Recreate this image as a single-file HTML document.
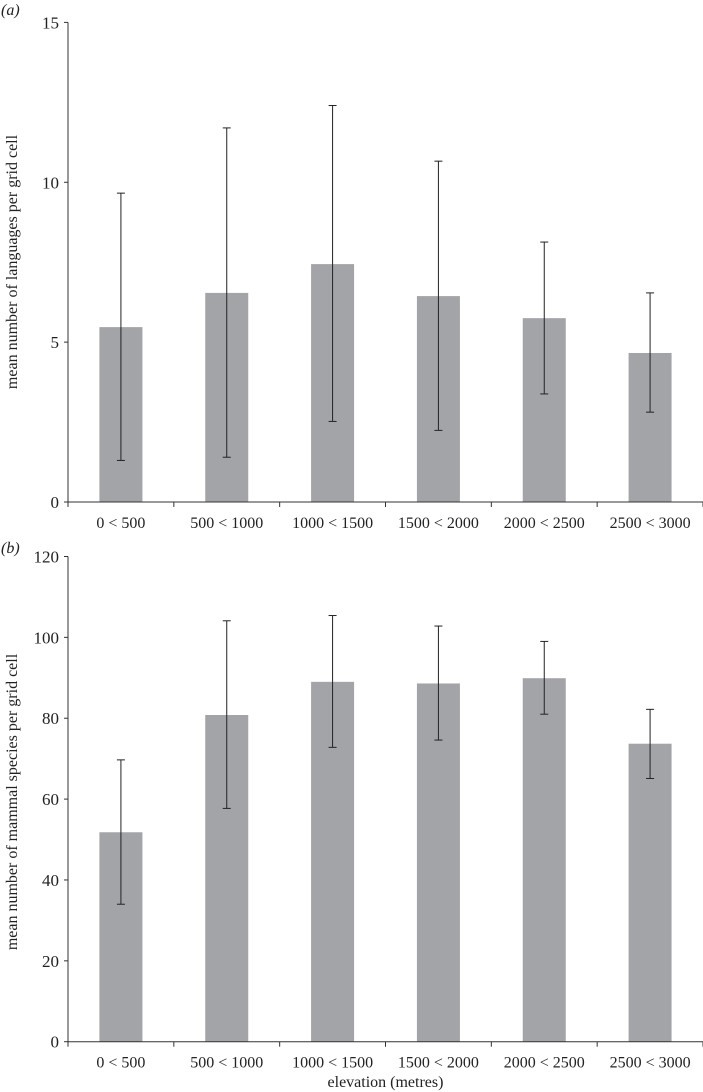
<!DOCTYPE html>
<html><head><meta charset="utf-8"><style>
html,body{margin:0;padding:0;background:#fff}
svg{display:block;font-family:"Liberation Serif",serif}
</style></head><body>
<svg id="chart" width="703" height="1092" viewBox="0 0 703 1092" xmlns="http://www.w3.org/2000/svg"></svg>
<script>
const categories = ["0 < 500","500 < 1000","1000 < 1500","1500 < 2000","2000 < 2500","2500 < 3000"];
const langMean = [5.47,6.54,7.44,6.44,5.75,4.66];
const langUpper = [9.66,11.70,12.40,10.66,8.13,6.54];
const langLower = [1.30,1.40,2.52,2.24,3.38,2.81];
const langTicks = [0,5,10,15];
const mamMean = [51.8,80.8,89.0,88.6,89.9,73.7];
const mamUpper = [69.7,104.1,105.4,102.8,99.0,82.2];
const mamLower = [34.0,57.7,72.8,74.6,81.0,65.1];
const mamTicks = [0,20,40,60,80,100,120];

const NS="http://www.w3.org/2000/svg";
const svg=document.getElementById('chart');
function mk(tag,attrs,parent){const e=document.createElementNS(NS,tag);for(const k in attrs)e.setAttribute(k,attrs[k]);(parent||svg).appendChild(e);return e;}

function panel(cfg){
  const g=mk('g',{});
  
  
  const x0=68,x1=703,bw=(x1-x0)/categories.length;
  const y=v=>cfg.y0-(v/cfg.max)*(cfg.y0-cfg.yTop);
  const xc=i=>x0+bw*(i+0.5);
  // bars
  cfg.mean.forEach((v,i)=>{
    const r=mk('rect',{x:xc(i)-21.5,y:y(v),width:43,height:cfg.y0-y(v),fill:'#a3a4a8'},g);
    
    
  });
  // error bars
  cfg.mean.forEach((v,i)=>{
    const eg=mk('g',{stroke:'#222','stroke-width':1},g);
    
    
    const cx=xc(i);
    mk('line',{x1:cx,x2:cx,y1:y(cfg.up[i]),y2:y(cfg.lo[i])},eg);
    mk('line',{x1:cx-4,x2:cx+4,y1:y(cfg.up[i]),y2:y(cfg.up[i])},eg);
    mk('line',{x1:cx-4,x2:cx+4,y1:y(cfg.lo[i]),y2:y(cfg.lo[i])},eg);
  });
  // axes
  const ax=mk('g',{stroke:'#333','stroke-width':1},g);
  
  
  mk('line',{x1:x0,x2:x0,y1:cfg.yTop,y2:cfg.y0},ax);
  mk('line',{x1:x0,x2:x1,y1:cfg.y0,y2:cfg.y0},ax);
  cfg.ticks.forEach(t=>{
    mk('line',{x1:x0-4,x2:x0,y1:y(t),y2:y(t)},ax);
    const tx=mk('text',{x:x0-9,y:y(t)+6,'text-anchor':'end','font-size':17,fill:'#222',stroke:'none'},g);
    tx.textContent=t;
    
    
  });
  for(let i=0;i<=categories.length;i++){
    mk('line',{x1:x0+bw*i,x2:x0+bw*i,y1:cfg.y0,y2:cfg.y0+5},ax);
  }
  categories.forEach((c,i)=>{
    const tx=mk('text',{x:xc(i),y:cfg.y0+26,'text-anchor':'middle','font-size':16,fill:'#222'},g);
    tx.textContent=c;
    
    
  });
  const yl=mk('text',{transform:`translate(17,${cfg.labelY}) rotate(-90)`,'text-anchor':'middle','font-size':16,fill:'#222'},g);
  yl.textContent=cfg.ylabel;
  
  
  const pl=mk('text',{x:1,y:cfg.panelY,'font-size':16,'font-style':'italic',fill:'#222'},g);
  pl.textContent=cfg.panel;
  
  
}
panel({name:'panel-a',mean:langMean,up:langUpper,lo:langLower,ticks:langTicks,max:15,y0:502,yTop:22.4,ylabel:'mean number of languages per grid cell',labelY:262,panel:'(a)',panelY:15});
panel({name:'panel-b',mean:mamMean,up:mamUpper,lo:mamLower,ticks:mamTicks,max:120,y0:1041.7,yTop:556.5,ylabel:'mean number of mammal species per grid cell',labelY:802,panel:'(b)',panelY:553});
const xt=mk('text',{x:385.5,y:1087,'text-anchor':'middle','font-size':16,fill:'#222'});
xt.textContent='elevation (metres)';


</script>
</body></html>
